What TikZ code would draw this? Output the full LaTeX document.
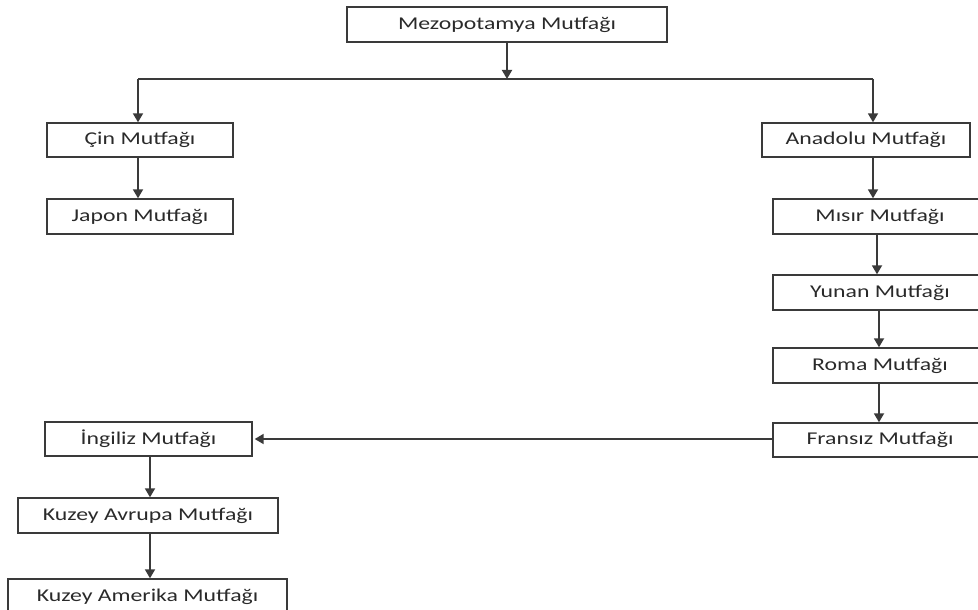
\documentclass[tikz,border=0pt]{standalone}
\usepackage{fontspec}
\setmainfont{Carlito}[FakeStretch=1.32]
\usetikzlibrary{arrows.meta}
\definecolor{ln}{HTML}{3A3A3A}
\definecolor{tx}{HTML}{2A2A2A}
\tikzset{
  box/.style={draw=ln, line width=1.4pt, minimum height=35pt, inner sep=0pt, text=tx, font=\fontsize{18}{21}\selectfont},
  arr/.style={draw=ln, line width=1.8pt, -{Triangle[length=9pt,width=10pt]}},
  ln/.style={draw=ln, line width=1.8pt}
}
\begin{document}
\begin{tikzpicture}[x=1pt,y=-1pt]
\useasboundingbox (0,0) rectangle (978,610);
\clip (0,0) rectangle (978,610);
\node[box, minimum width=320pt] (mezo) at (507,24.5) {Mezopotamya Mutfağı};
\node[box, minimum width=186pt, minimum height=34pt] (cin) at (140,140) {Çin Mutfağı};
\node[box, minimum width=186pt] (japon) at (140,216.5) {Japon Mutfağı};
\node[box, minimum width=208pt, minimum height=34pt] (anadolu) at (866,140) {Anadolu Mutfağı};
\node[box, minimum width=214pt] (misir) at (880,216.5) {Mısır Mutfağı};
\node[box, minimum width=214pt] (yunan) at (880,292.5) {Yunan Mutfağı};
\node[box, minimum width=214pt] (roma) at (880,365.5) {Roma Mutfağı};
\node[box, minimum width=214pt, minimum height=34pt] (fransiz) at (880,440) {Fransız Mutfağı};
\node[box, minimum width=207pt, minimum height=34pt] (ingiliz) at (148.5,439) {İngiliz Mutfağı};
\node[box, minimum width=260pt] (kavrupa) at (148,515.5) {Kuzey Avrupa Mutfağı};
\node[box, minimum width=279pt] (kamerika) at (147.5,596.5) {Kuzey Amerika Mutfağı};
\coordinate (j) at (507,79);
\coordinate (jl) at (138,79);
\coordinate (jr) at (873,79);
\draw[arr] (mezo.south) -- (j);
\draw[ln] (jl) -- (jr);
\draw[arr] (jl) -- (jl |- cin.north);
\draw[arr] (jr) -- (jr |- anadolu.north);
\draw[arr] ([xshift=-2pt]cin.south) -- ([xshift=-2pt]japon.north);
\draw[arr] ([xshift=7pt]anadolu.south) -- ([xshift=7pt]anadolu.south |- misir.north);
\draw[arr] ([xshift=-3pt]misir.south) -- ([xshift=-3pt]yunan.north);
\draw[arr] ([xshift=-1pt]yunan.south) -- ([xshift=-1pt]roma.north);
\draw[arr] ([xshift=-1pt]roma.south) -- ([xshift=-1pt]fransiz.north);
\draw[arr] (fransiz.west |- ingiliz.east) -- ([xshift=2pt]ingiliz.east);
\draw[arr] ([xshift=1.5pt]ingiliz.south) -- ([xshift=1.5pt]ingiliz.south |- kavrupa.north);
\draw[arr] ([xshift=2pt]kavrupa.south) -- ([xshift=2pt]kavrupa.south |- kamerika.north);
\end{tikzpicture}
\end{document}
